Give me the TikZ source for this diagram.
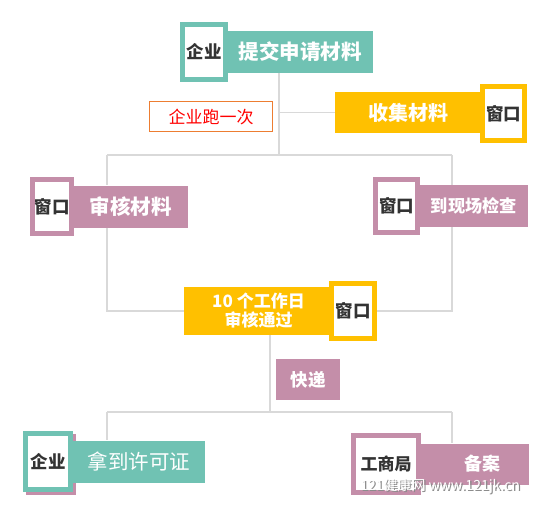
\documentclass[tikz,border=0pt]{standalone}
\usepackage{fontspec}
\setmainfont{Noto Sans CJK SC}
\usetikzlibrary{positioning}
\definecolor{qteal}{HTML}{70C2B3}
\definecolor{qgold}{HTML}{FFC000}
\definecolor{qpink}{HTML}{C48EA9}
\definecolor{qline}{HTML}{D9D9D9}
\definecolor{qtext}{HTML}{333333}
\definecolor{qorange}{HTML}{ED7D31}
\begin{document}
\begin{tikzpicture}[x=1pt,y=-1pt,
	bar/.style={fill=#1, text=white, font=\bfseries, inner sep=0pt, anchor=west},
	win/.style={draw=#1, line width=4.5pt, fill=white, text=qtext, font=\bfseries\fontsize{17.5}{19}\selectfont, inner sep=0pt},
	link/.style={draw=qline, line width=1.8pt}]
	\useasboundingbox (0,0) rectangle (553,517);
	% 第一步：提交申请
	\node[win=qteal, minimum width=43pt, minimum height=55pt] (w1) at (204,52) {企业};
	\node[bar=qteal, minimum width=145pt, minimum height=42pt, font=\bfseries\fontsize{20.5}{22}\selectfont] (b1) at (w1.east) {提交申请材料};
	\node[win=qteal, minimum width=43pt, minimum height=55pt] at (w1) {企业};
	\node[draw=qorange, line width=0.8pt, text=red, minimum width=123pt, minimum height=30pt, inner sep=0pt, font=\fontsize{17}{19}\selectfont] (once) at (211,116.5) {企业跑一次};
	% 收集材料
	\node[fill=qgold, text=white, font=\bfseries\fontsize{20}{22}\selectfont, minimum width=147pt, minimum height=41pt, inner sep=0pt] (b2) at (408.5,112.5) {收集材料};
	\node[win=qgold, minimum width=42pt, minimum height=54pt] (w2) at (503.5,113.5) {窗口};
	% 审核材料
	\node[win=qpink, minimum width=39pt, minimum height=54pt] (w3) at (52,206.5) {窗口};
	\node[bar=qpink, minimum width=114pt, minimum height=42pt, font=\bfseries\fontsize{20.5}{22}\selectfont] (b3) at (w3.east) {审核材料};
	\node[win=qpink, minimum width=39pt, minimum height=54pt] at (w3) {窗口};
	% 到现场检查
	\node[win=qpink, minimum width=42pt, minimum height=53pt] (w4) at (396.5,206) {窗口};
	\node[bar=qpink, minimum width=108pt, minimum height=42pt, font=\bfseries\fontsize{17.2}{19}\selectfont] (b4) at (w4.east) {到现场检查};
	\node[win=qpink, minimum width=42pt, minimum height=53pt] at (w4) {窗口};
	% 10个工作日审核通过
	\node[fill=qgold, text=white, font=\bfseries\fontsize{17}{19}\selectfont, align=center, minimum width=149pt, minimum height=48pt, inner sep=0pt] (b5) at (258.5,311) {10 个工作日\\审核通过};
	\node[win=qgold, minimum width=43pt, minimum height=55pt] (w5) at (353,311) {窗口};
	% 快递
	\node[fill=qpink, text=white, font=\bfseries\fontsize{17.5}{19}\selectfont, minimum width=64pt, minimum height=41pt, inner sep=0pt] (post) at (308,379.5) {快递};
	% 拿到许可证
	\fill[qpink] (26,434) rectangle (76,495);
	\node[win=qteal, minimum width=45pt, minimum height=56pt] (w6) at (48,461.5) {企业};
	\node[bar=qteal, minimum width=132pt, minimum height=42pt, font=\fontsize{20.5}{22}\selectfont] (b6) at (w6.east) {拿到许可证};
	\node[win=qteal, minimum width=45pt, minimum height=56pt] at (w6) {企业};
	% 工商局备案
	\node[win=qpink, minimum width=65pt, minimum height=57pt, font=\bfseries\fontsize{17}{19}\selectfont] (w7) at (386,464) {工商局};
	\node[bar=qpink, minimum width=108pt, minimum height=41pt, font=\bfseries\fontsize{18}{20}\selectfont] (b7) at (w7.east) {\hspace*{16pt}备案};
	\node[win=qpink, minimum width=65pt, minimum height=57pt, font=\bfseries\fontsize{17}{19}\selectfont] at (w7) {工商局};
	% 连接线
	\coordinate (top) at (279,155);
	\coordinate (left) at (107,155);
	\coordinate (right) at (452,155);
	\coordinate (mid) at (270,412);
	\draw[link] (b1.south -| top) -- (top);
	\draw[link] (b2.west -| top) -- (b2.west);
	\draw[link] (left) -- (right);
	\draw[link] (left) -- (b3.north -| left);
	\draw[link] (right) -- (b4.north -| right);
	\draw[link] (b3.south -| left) |- (b5.west);
	\draw[link] (b4.south -| right) |- (w5.east);
	\draw[link] (b5.south -| mid) -- (mid);
	\draw[link] (mid -| left) -- (mid -| right);
	\draw[link] (mid -| left) -- (b6.north -| left);
	\draw[link] (mid -| right) -- (b7.north -| right);
	% 水印
	\node[text=black!45, font=\fontsize{14}{16}\selectfont] at (441.5,487.5) {121健康网 www.121jk.cn};
	\node[text=white, font=\fontsize{14}{16}\selectfont] (mark) at (440,486) {121健康网 www.121jk.cn};
\end{tikzpicture}
\end{document}
